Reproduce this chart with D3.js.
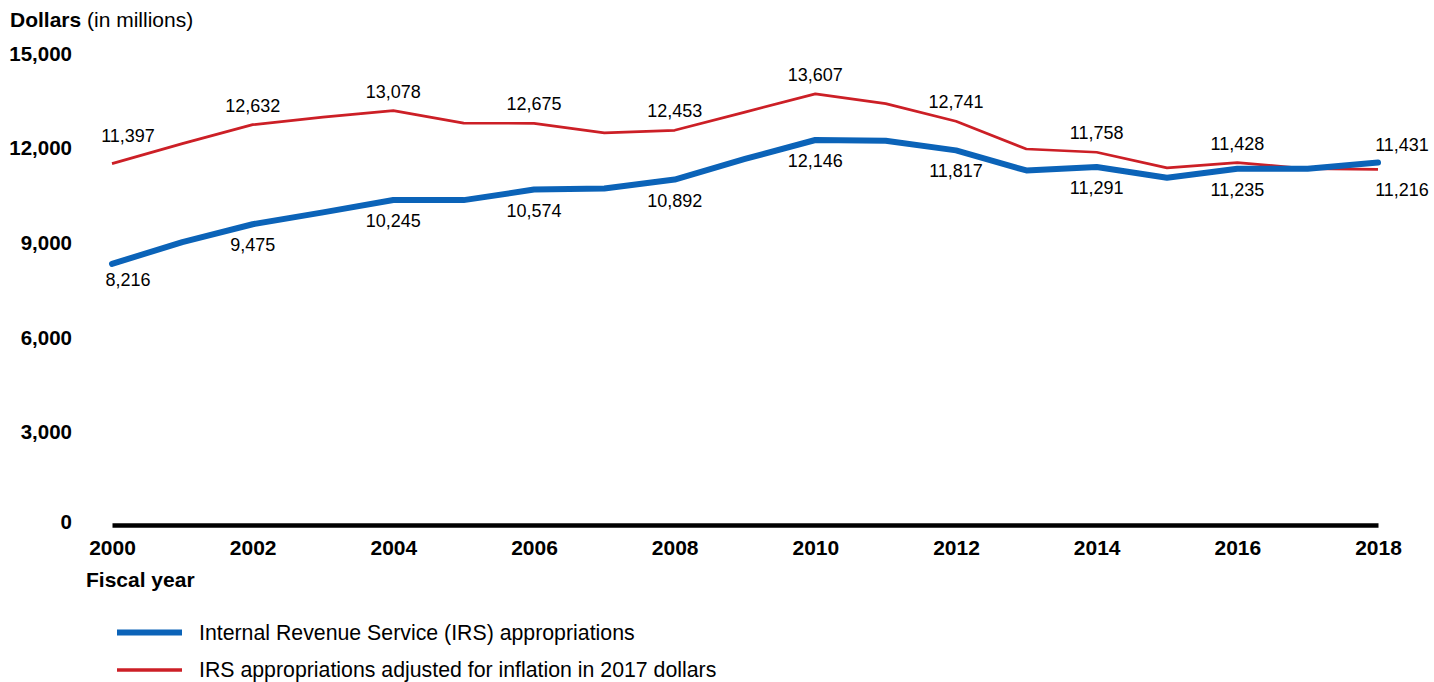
<!DOCTYPE html>
<html>
<head>
<meta charset="utf-8">
<script src="https://cdn.jsdelivr.net/npm/d3@7"></script>
<style>
  html, body { margin: 0; padding: 0; background: #fff; }
  svg { display: block; font-family: "Liberation Sans", Arial, sans-serif; }
</style>
</head>
<body>
<svg id="chart" width="1434" height="682"></svg>
<script>
// Fiscal years and IRS appropriations (dollars in millions)
const years = [2000, 2001, 2002, 2003, 2004, 2005, 2006, 2007, 2008, 2009,
               2010, 2011, 2012, 2013, 2014, 2015, 2016, 2017, 2018];
const irsNominal = [8216, 8910, 9475, 9850, 10245, 10240, 10574, 10605, 10892, 11545,
                    12146, 12120, 11817, 11180, 11291, 10950, 11235, 11235, 11431];
const irsReal = [11397, 12030, 12632, 12870, 13078, 12680, 12675, 12370, 12453, 13030,
                 13607, 13300, 12741, 11860, 11758, 11260, 11428, 11235, 11216];
const labelYears = [2000, 2002, 2004, 2006, 2008, 2010, 2012, 2014, 2016, 2018];
const yTicks = [0, 3000, 6000, 9000, 12000, 15000];
const seriesNames = [
  "Internal Revenue Service (IRS) appropriations",
  "IRS appropriations adjusted for inflation in 2017 dollars"
];
const blue = "#0b63b8";
const red = "#cc1f26";

const svg = d3.select("#chart");
const x = d3.scaleLinear().domain([2000, 2018]).range([112, 1378]);
const y = d3.scaleLinear().domain([0, 15000]).range([523, 50]);
const fmt = d3.format(",");

// y-axis title
const yTitle = svg.append("text").attr("x", 10).attr("y", 27)
  .style("font-size", "21px").attr("fill", "#000");
yTitle.append("tspan").style("font-weight", "bold").text("Dollars");
yTitle.append("tspan").text(" (in millions)");

// y axis: labels only
const yAxis = svg.append("g").attr("transform", "translate(72,0)")
  .call(d3.axisLeft(y).tickValues(yTicks).tickSize(0).tickPadding(0).tickFormat(fmt));
yAxis.select(".domain").remove();
yAxis.selectAll("text")
  .attr("dy", d => d === 0 ? "0.25em" : "0.5em")
  .style("font-size", "20.5px").style("font-weight", "bold")
  .style("font-family", "'Liberation Sans', Arial, sans-serif").attr("fill", "#000");

// x axis with heavy baseline
const xAxis = svg.append("g").attr("transform", "translate(0,525)")
  .call(d3.axisBottom(x).tickValues(labelYears).tickSize(0).tickSizeOuter(0)
    .tickPadding(15).tickFormat(d3.format("d")));
xAxis.select(".domain").attr("stroke", "#000").attr("stroke-width", 4.5);
xAxis.selectAll("text")
  .style("font-size", "21px").style("font-weight", "bold")
  .style("font-family", "'Liberation Sans', Arial, sans-serif").attr("fill", "#000");

svg.append("text").attr("x", 86).attr("y", 587)
  .style("font-size", "21px").style("font-weight", "bold").text("Fiscal year");

// lines
const line = d3.line().x(d => x(d[0])).y(d => y(d[1]));
svg.append("path")
  .datum(years.map((yr, i) => [yr, irsReal[i]]))
  .attr("d", line).attr("fill", "none").attr("stroke", red)
  .attr("stroke-width", 2.7).attr("stroke-linejoin", "round");
svg.append("path")
  .datum(years.map((yr, i) => [yr, irsNominal[i]]))
  .attr("d", line).attr("fill", "none").attr("stroke", blue)
  .attr("stroke-width", 6).attr("stroke-linejoin", "round").attr("stroke-linecap", "round");

// value labels: inflation-adjusted above its line, nominal below,
// swapped at the last year where the lines cross
const last = years[years.length - 1];
const first = years[0];
function labelX(yr) {
  if (yr === first) return x(yr) + 16;
  if (yr === last) return x(yr) + 24;
  return x(yr);
}
const labels = svg.append("g").style("font-size", "18px").attr("fill", "#000")
  .attr("text-anchor", "middle");
labelYears.forEach(yr => {
  const i = years.indexOf(yr);
  const swap = yr === last;
  const redDy = swap ? 27 : (yr === first ? -22 : -13);
  const blueDy = swap ? -12 : (yr === first ? 22 : 27);
  labels.append("text").attr("x", labelX(yr)).attr("y", y(irsReal[i]) + redDy)
    .text(fmt(irsReal[i]));
  labels.append("text").attr("x", labelX(yr)).attr("y", y(irsNominal[i]) + blueDy)
    .text(fmt(irsNominal[i]));
});

// legend
const legend = svg.append("g");
const legendItems = [
  { name: seriesNames[0], color: blue, width: 6, y: 632.5 },
  { name: seriesNames[1], color: red, width: 3.5, y: 670 }
];
legendItems.forEach(item => {
  legend.append("line").attr("x1", 117).attr("x2", 182)
    .attr("y1", item.y).attr("y2", item.y)
    .attr("stroke", item.color).attr("stroke-width", item.width);
  legend.append("text").attr("x", 199).attr("y", item.y + 7)
    .style("font-size", "21.3px").attr("fill", "#000").text(item.name);
});
</script>
</body>
</html>
